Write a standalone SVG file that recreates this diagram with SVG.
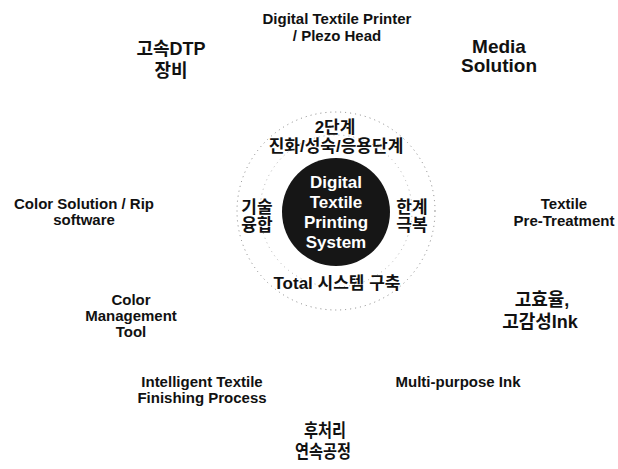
<svg xmlns="http://www.w3.org/2000/svg" width="618" height="469" viewBox="0 0 618 469">
  <style>
    .lbl { font-family: "Liberation Sans", "Noto Sans CJK KR", sans-serif; font-weight: bold; fill: #111; text-anchor: middle; }
    .en { font-size: 15px; }
    .big { font-size: 19px; }
    .kr { font-size: 18px; }
    .ring { font-size: 17px; }
    .core { font-family: "Liberation Sans", sans-serif; font-weight: bold; font-size: 17px; fill: #fff; text-anchor: middle; }
    .halo { fill: none; stroke: #777; stroke-width: 0.9; stroke-dasharray: 1 4; }
  </style>

  <rect width="618" height="469" fill="#fff"/>

  <!-- central hub: outer dotted ring, dark core and ring labels -->
  <g id="hub">
    <circle class="halo" cx="336" cy="211" r="99"/>
    <circle class="halo" cx="336" cy="211" r="76" stroke-dasharray="1 7" opacity="0.6"/>
    <circle cx="336" cy="212" r="54" fill="#161616"/>
    <text class="core" x="336" y="188">Digital</text>
    <text class="core" x="336" y="208">Textile</text>
    <text class="core" x="336" y="228">Printing</text>
    <text class="core" x="336" y="248">System</text>
  </g>

  <g id="ring-stage">
    <text class="lbl ring" x="335" y="133" font-size="15">2단계</text>
    <text class="lbl ring" x="336" y="152">진화/성숙/응용단계</text>
  </g>
  <g id="ring-fusion">
    <text class="lbl ring" x="257" y="213" font-size="16">기술</text>
    <text class="lbl ring" x="257" y="231" font-size="16">융합</text>
  </g>
  <g id="ring-limit">
    <text class="lbl ring" x="412" y="213" font-size="16">한계</text>
    <text class="lbl ring" x="412" y="231" font-size="16">극복</text>
  </g>
  <g id="ring-total">
    <text class="lbl ring" x="337" y="289">Total 시스템 구축</text>
  </g>

  <!-- surrounding topics -->
  <g id="printer">
    <text class="lbl en" x="337" y="24">Digital Textile Printer</text>
    <text class="lbl en" x="337" y="41">/ Plezo Head</text>
  </g>
  <g id="dtp">
    <text class="lbl kr" x="171" y="55">고속DTP</text>
    <text class="lbl kr" x="171" y="77">장비</text>
  </g>
  <g id="media">
    <text class="lbl big" x="499" y="53">Media</text>
    <text class="lbl big" x="499" y="72">Solution</text>
  </g>
  <g id="color-solution">
    <text class="lbl en" x="84" y="209" font-size="15.8">Color Solution / Rip</text>
    <text class="lbl en" x="84" y="225" font-size="15.8">software</text>
  </g>
  <g id="pretreatment">
    <text class="lbl en" x="564" y="209">Textile</text>
    <text class="lbl en" x="564" y="226">Pre-Treatment</text>
  </g>
  <g id="color-management">
    <text class="lbl en" x="131" y="305">Color</text>
    <text class="lbl en" x="131" y="321">Management</text>
    <text class="lbl en" x="131" y="337">Tool</text>
  </g>
  <g id="ink-korean">
    <text class="lbl kr" x="542" y="306" font-size="20">고효율,</text>
    <text class="lbl kr" x="540" y="328" font-size="20">고감성Ink</text>
  </g>
  <g id="finishing">
    <text class="lbl en" x="202" y="387" font-size="15.8">Intelligent Textile</text>
    <text class="lbl en" x="202" y="403" font-size="15.8">Finishing Process</text>
  </g>
  <g id="multi-ink">
    <text class="lbl en" x="458" y="387" font-size="14">Multi-purpose Ink</text>
  </g>
  <g id="post-process">
    <text class="lbl kr" x="325" y="437" textLength="42" lengthAdjust="spacingAndGlyphs">후처리</text>
    <text class="lbl kr" x="323" y="458" textLength="56" lengthAdjust="spacingAndGlyphs">연속공정</text>
  </g>

  <g id="connectors"></g>
</svg>
